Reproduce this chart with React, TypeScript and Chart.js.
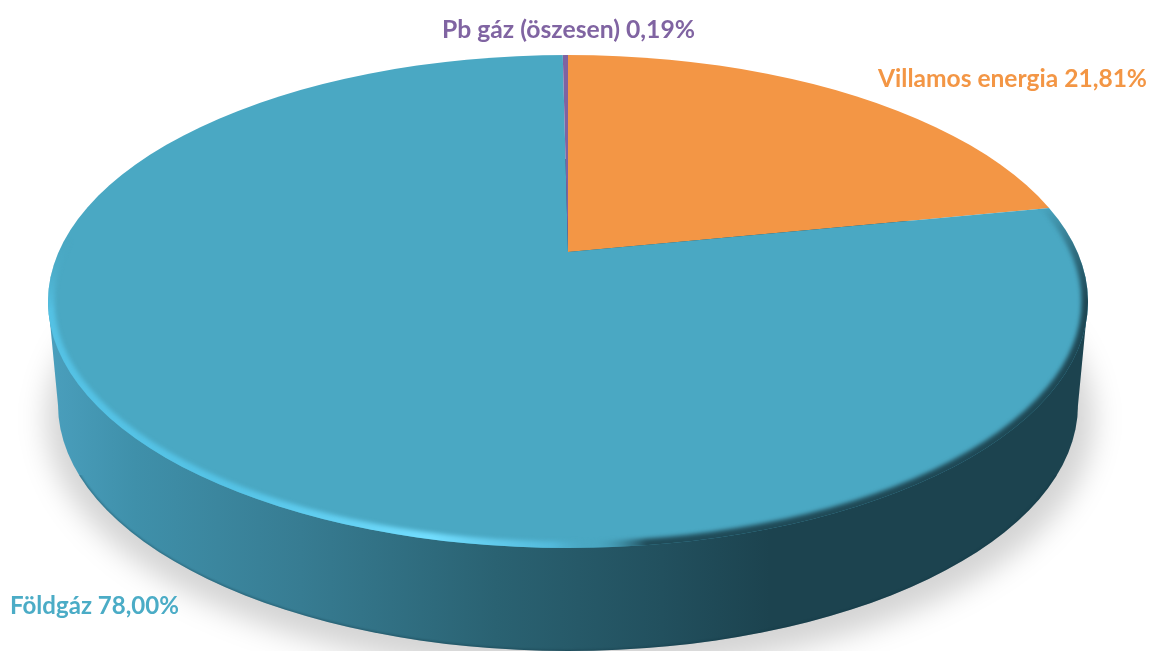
import React, { useEffect, useRef } from "react";
import { Chart, registerables } from "chart.js";

Chart.register(...registerables);

const categories = ["Villamos energia", "Földgáz", "Pb gáz (öszesen)"];
const shares = [21.81, 78.0, 0.19];
const tickLabels = ["Villamos energia 21,81%", "Földgáz 78,00%", "Pb gáz (öszesen) 0,19%"];
const sliceColors = ["#F39645", "#4AA8C3", "#7F63A1"];
const labelColors = ["#F39645", "#4BACC6", "#8064A2"];

const W = 1153;
const H = 651;
const TOP = { cx: 568, cy: 301.5, rx: 520, ry: 246.5 };
const BOTTOM = { cx: 568, cy: 405, rx: 510, ry: 246 };
const APEX = { x: 568, y: 252 };
const TILT = 0.45;
const LABEL_ANCHORS = [
  { x: 878, y: 87, w: 269 },
  { x: 10, y: 614, w: 169 },
  { x: 442, y: 38, w: 253 },
];

const ellipse = (ctx: CanvasRenderingContext2D, e: typeof TOP) => {
  ctx.beginPath();
  ctx.ellipse(e.cx, e.cy, e.rx, e.ry, 0, 0, Math.PI * 2);
};

const body3d = {
  id: "body3d",
  beforeDatasetsDraw(chart: any) {
    const ctx: CanvasRenderingContext2D = chart.ctx;
    // soft floor shadow
    ctx.save();
    ctx.filter = "blur(14px)";
    ctx.fillStyle = "rgba(0,0,0,0.17)";
    ctx.beginPath();
    ctx.ellipse(BOTTOM.cx + 2, BOTTOM.cy + 14, BOTTOM.rx + 14, BOTTOM.ry + 8, 0, 0, Math.PI * 2);
    ctx.fill();
    ctx.restore();

    // extruded side
    const g = ctx.createLinearGradient(TOP.cx - TOP.rx, 0, 770, 0);
    g.addColorStop(0, "#4A9FBD");
    g.addColorStop(0.12, "#3F90AA");
    g.addColorStop(0.35, "#377C92");
    g.addColorStop(0.62, "#2A6272");
    g.addColorStop(0.85, "#22505E");
    g.addColorStop(1, "#1C434F");
    ctx.save();
    ctx.fillStyle = g;
    ellipse(ctx, BOTTOM);
    ctx.fill();
    ctx.beginPath();
    ctx.moveTo(TOP.cx - TOP.rx, TOP.cy);
    ctx.lineTo(TOP.cx + TOP.rx, TOP.cy);
    ctx.lineTo(BOTTOM.cx + BOTTOM.rx, BOTTOM.cy);
    ctx.lineTo(BOTTOM.cx - BOTTOM.rx, BOTTOM.cy);
    ctx.closePath();
    ctx.fill();
    ellipse(ctx, BOTTOM);
    ctx.clip();
    ctx.beginPath();
    ctx.rect(0, BOTTOM.cy + 70, W, H);
    ctx.clip();
    ctx.filter = "blur(1px)";
    ctx.strokeStyle = "rgba(15,50,65,0.45)";
    ctx.lineWidth = 2;
    ellipse(ctx, BOTTOM);
    ctx.stroke();
    ctx.restore();

    // top face: the library's arcs, tilted and cut to the rim
    const arc = chart.getDatasetMeta(0).data[0];
    ctx.save();
    ellipse(ctx, TOP);
    ctx.clip();
    ctx.translate(APEX.x, APEX.y);
    ctx.scale(1, TILT);
    ctx.translate(-arc.x, -arc.y);
  },
  afterDatasetsDraw(chart: any) {
    const ctx: CanvasRenderingContext2D = chart.ctx;
    ctx.restore();

    // bevel on the rim
    ctx.save();
    ellipse(ctx, TOP);
    ctx.clip();
    const rim = ctx.createConicGradient(0, TOP.cx, TOP.cy);
    rim.addColorStop(0, "rgba(28,66,78,0.95)");
    rim.addColorStop(0.2, "rgba(28,66,78,0.9)");
    rim.addColorStop(0.235, "rgba(74,168,195,0)");
    rim.addColorStop(0.26, "rgba(85,190,225,0.8)");
    rim.addColorStop(0.335, "rgba(115,222,255,1)");
    rim.addColorStop(0.42, "rgba(85,195,230,1)");
    rim.addColorStop(0.497, "rgba(85,195,230,0.95)");
    rim.addColorStop(0.52, "rgba(74,168,195,0)");
    rim.addColorStop(0.968, "rgba(28,66,78,0)");
    rim.addColorStop(0.985, "rgba(28,66,78,0.6)");
    rim.addColorStop(1, "rgba(28,66,78,0.95)");
    ctx.filter = "blur(2px)";
    ctx.strokeStyle = rim;
    ctx.lineWidth = 13;
    ellipse(ctx, TOP);
    ctx.stroke();
    ctx.restore();
  },
  afterDraw(chart: any) {
    const ctx: CanvasRenderingContext2D = chart.ctx;
    ctx.save();
    ctx.font = "bold 25px Lato";
    ctx.textBaseline = "alphabetic";
    ctx.textAlign = "left";
    tickLabels.forEach((t, i) => {
      const a = LABEL_ANCHORS[i];
      ctx.fillStyle = labelColors[i];
      ctx.fillText(t, a.x, a.y, a.w);
    });
    ctx.restore();
  },
};

export default function App() {
  const ref = useRef<HTMLCanvasElement>(null);
  useEffect(() => {
    document.body.style.margin = "0";
    document.body.style.overflow = "hidden";
    const chart = new Chart(ref.current!, {
      type: "pie",
      data: {
        labels: categories,
        datasets: [
          {
            data: shares,
            backgroundColor: sliceColors,
            borderWidth: 0,
            clip: false,
          } as any,
        ],
      },
      options: {
        responsive: false,
        animation: false,
        radius: 720,
        rotation: 0,
        plugins: { legend: { display: false }, tooltip: { enabled: false } },
      } as any,
      plugins: [body3d],
    });
    return () => chart.destroy();
  }, []);
  return <canvas ref={ref} width={W} height={H} style={{ display: "block" }} />;
}
